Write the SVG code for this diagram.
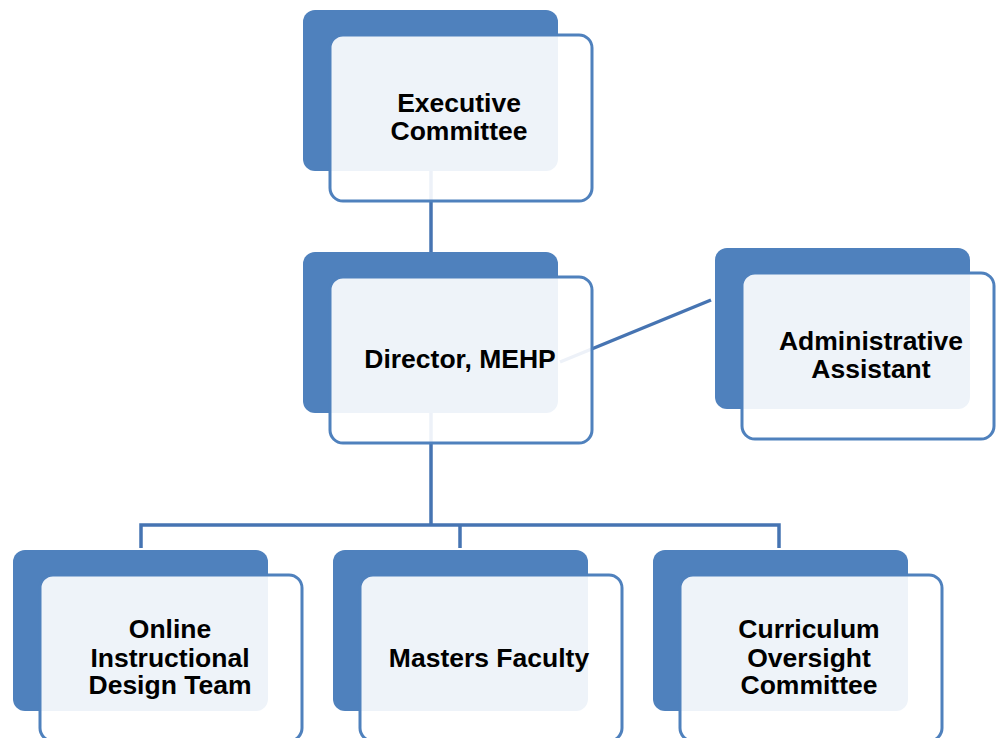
<svg xmlns="http://www.w3.org/2000/svg" width="996" height="738" viewBox="0 0 996 738">
  <style>
    .back { fill: #4f81bd; }
    .front { fill: #ffffff; fill-opacity: 0.9; stroke: #4f81bd; stroke-width: 3; }
    .label { font-family: "Liberation Sans", Arial, sans-serif; font-weight: bold; font-size: 26.5px; fill: #000000; text-anchor: middle; }
    .link { fill: none; stroke: #4674b2; stroke-width: 3.5; }
  </style>
  <rect width="996" height="738" fill="#ffffff"/>

  <!-- reporting lines, drawn beneath the boxes -->
  <g id="connectors">
    <line class="link" x1="431" y1="165" x2="431" y2="255"/>
    <line class="link" x1="560" y1="362" x2="711" y2="300"/>
    <path class="link" d="M431,410 V525 M141,548 V525 H779 V548 M460,525 V548"/>
  </g>

  <g id="executive-committee">
    <rect class="back" x="303" y="10" width="255" height="161" rx="12"/>
    <rect class="front" x="330" y="35" width="262" height="166" rx="13"/>
    <text class="label" x="459" y="112">Executive</text>
    <text class="label" x="459" y="140">Committee</text>
  </g>

  <g id="director-mehp">
    <rect class="back" x="303" y="252" width="255" height="161" rx="12"/>
    <rect class="front" x="330" y="277" width="262" height="166" rx="13"/>
    <text class="label" x="460" y="368">Director, MEHP</text>
  </g>

  <g id="administrative-assistant">
    <rect class="back" x="715" y="248" width="255" height="161" rx="12"/>
    <rect class="front" x="742" y="273" width="252" height="166" rx="13"/>
    <text class="label" x="871" y="350">Administrative</text>
    <text class="label" x="871" y="378">Assistant</text>
  </g>

  <g id="online-instructional-design-team">
    <rect class="back" x="13" y="550" width="255" height="161" rx="12"/>
    <rect class="front" x="40" y="575" width="262" height="166" rx="13"/>
    <text class="label" x="170" y="638">Online</text>
    <text class="label" x="170" y="667">Instructional</text>
    <text class="label" x="170" y="694">Design Team</text>
  </g>

  <g id="masters-faculty">
    <rect class="back" x="333" y="550" width="255" height="161" rx="12"/>
    <rect class="front" x="360" y="575" width="262" height="166" rx="13"/>
    <text class="label" x="489" y="667">Masters Faculty</text>
  </g>

  <g id="curriculum-oversight-committee">
    <rect class="back" x="653" y="550" width="255" height="161" rx="12"/>
    <rect class="front" x="680" y="575" width="262" height="166" rx="13"/>
    <text class="label" x="809" y="638">Curriculum</text>
    <text class="label" x="809" y="667">Oversight</text>
    <text class="label" x="809" y="694">Committee</text>
  </g>
</svg>
